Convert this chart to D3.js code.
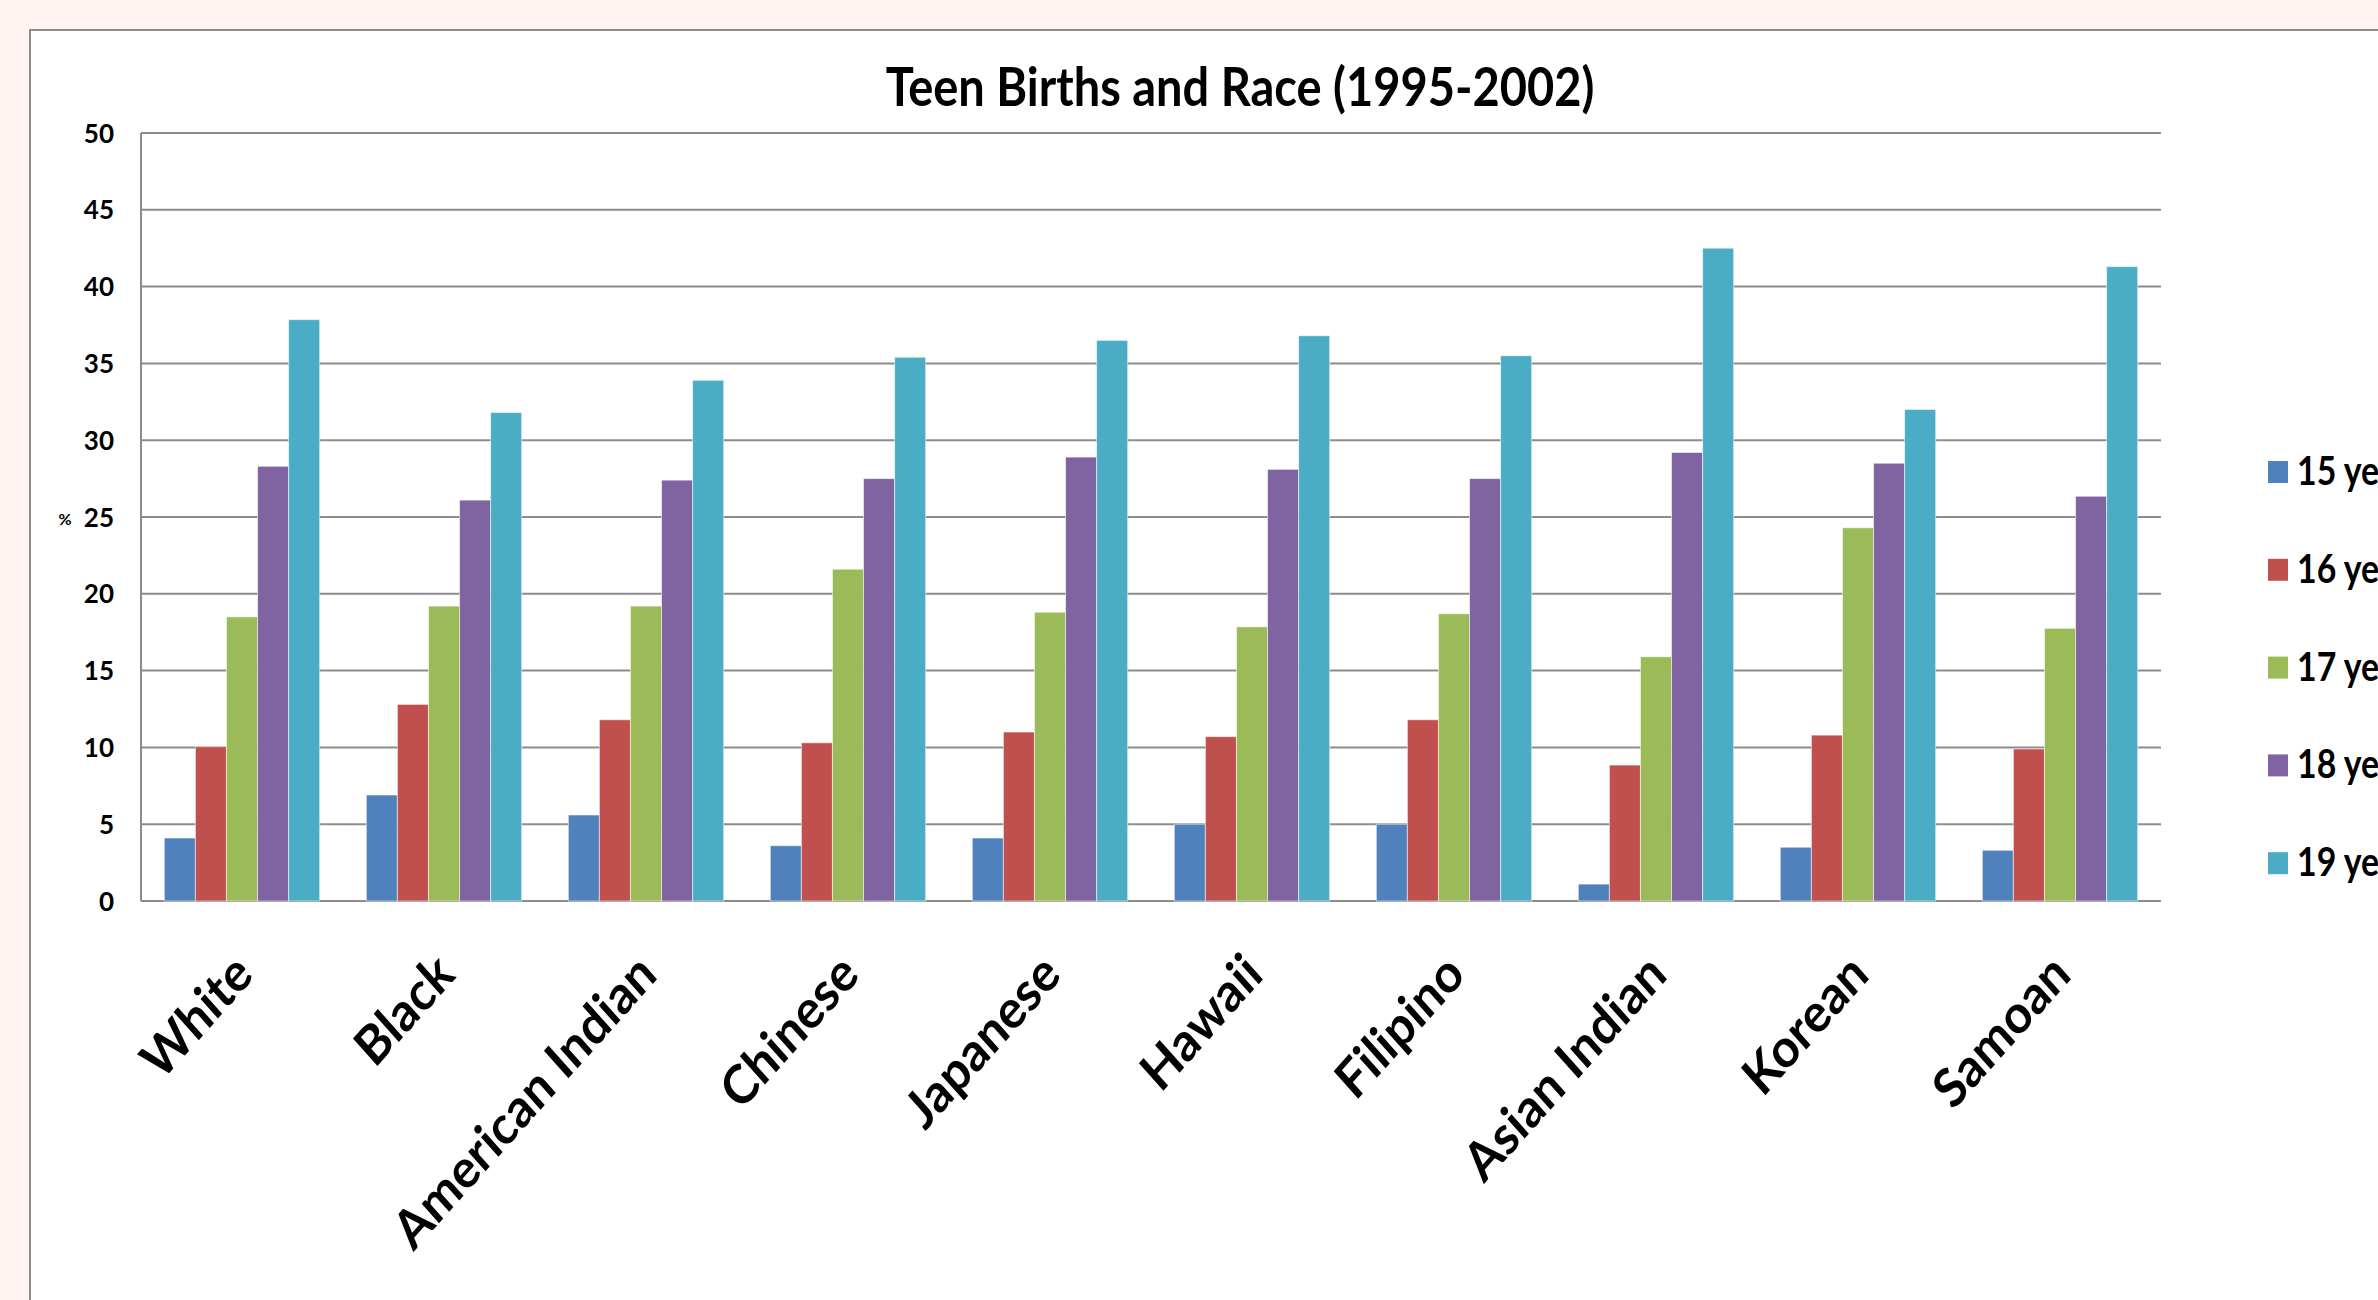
<!DOCTYPE html>
<html>
<head>
<meta charset="utf-8">
<script src="https://cdn.jsdelivr.net/npm/d3@7"></script>
<style>
  html,body{margin:0;padding:0;background:#fff4f1;overflow:hidden;}
  text{font-family:Lato,"Open Sans",sans-serif;font-weight:bold;fill:#000;}
</style>
</head>
<body>
<div id="chart"></div>
<script>
var width=2378;
var height=1300;

var races=['White','Black','American Indian','Chinese','Japanese','Hawaii','Filipino','Asian Indian','Korean','Samoan'];
var ages=['15 years','16 years','17 years','18 years','19 years'];
var colors=['#4f81bd','#c0504d','#9bbb59','#8064a2','#4bacc6'];

// percent of teen births per age, one array per age group
var age15=[4.1,6.9,5.6,3.6,4.1,5.0,5.0,1.1,3.5,3.3];
var age16=[10.05,12.8,11.8,10.3,11.0,10.7,11.8,8.85,10.8,9.9];
var age17=[18.5,19.2,19.2,21.6,18.8,17.85,18.7,15.9,24.3,17.75];
var age18=[28.3,26.1,27.4,27.5,28.9,28.1,27.5,29.2,28.5,26.35];
var age19=[37.85,31.8,33.9,35.4,36.5,36.8,35.5,42.5,32.0,41.3];
var yTicks=[0,5,10,15,20,25,30,35,40,45,50];

var seriesData=[age15,age16,age17,age18,age19];

var plotLeft=141, plotRight=2161, plotTop=133, plotBottom=901;
var stretch=1.12; // text in the original looks a bit taller than wide

var svg=d3.select('#chart').append('svg')
  .attr('width',width)
  .attr('height',height);

// chart frame
svg.append('rect')
  .attr('x',30).attr('y',30)
  .attr('width',width+20).attr('height',height+20)
  .attr('fill','#fff')
  .attr('stroke','#8c8c8c')
  .attr('stroke-width',2);

var x0=d3.scaleBand().domain(races).range([plotLeft,plotRight]).padding(0);
var x1=d3.scaleBand().domain(d3.range(ages.length)).range([0,x0.bandwidth()])
  .paddingInner(0).paddingOuter(0.75);
var y=d3.scaleLinear().domain([0,50]).range([plotBottom,plotTop]);

// gridlines
svg.append('g').selectAll('line')
  .data(yTicks)
  .enter()
  .append('line')
  .attr('x1',plotLeft).attr('x2',plotRight)
  .attr('y1',function(d){return y(d);})
  .attr('y2',function(d){return y(d);})
  .attr('stroke','#8c8c8c')
  .attr('stroke-width',2);

// left axis line
svg.append('line')
  .attr('x1',plotLeft).attr('x2',plotLeft)
  .attr('y1',plotTop).attr('y2',plotBottom)
  .attr('stroke','#8c8c8c')
  .attr('stroke-width',2);

// y tick labels
var yAxis=d3.axisLeft(y).tickValues(yTicks).tickSize(0).tickPadding(27);
var yg=svg.append('g').attr('transform','translate('+plotLeft+',0)').call(yAxis);
yg.select('.domain').remove();
yg.selectAll('text')
  .style('font-size','26px')
  .style('font-family','Lato, sans-serif')
  .style('font-weight','bold')
  .attr('dy','0.35em');

svg.append('text')
  .attr('x',65).attr('y',519)
  .attr('text-anchor','middle')
  .attr('dy','0.35em')
  .style('font-size','16px')
  .text('%');

// bars
var groups=svg.append('g').selectAll('g')
  .data(races)
  .enter()
  .append('g')
  .attr('transform',function(d){return 'translate('+x0(d)+',0)';});

groups.selectAll('rect')
  .data(function(d,i){
    return seriesData.map(function(s,j){return {series:j,value:s[i]};});
  })
  .enter()
  .append('rect')
  .attr('x',function(d){return x1(d.series);})
  .attr('width',x1.bandwidth())
  .attr('y',function(d){return y(d.value);})
  .attr('height',function(d){return plotBottom-y(d.value);})
  .attr('fill',function(d){return colors[d.series];})
  .attr('stroke','rgba(255,255,255,0.55)')
  .attr('stroke-width',1);

// category labels
svg.append('g').selectAll('text')
  .data(races)
  .enter()
  .append('text')
  .attr('transform',function(d){
    var cx=x0(d)+x0.bandwidth()/2+13;
    return 'translate('+cx+','+(plotBottom+76)+') scale(1,'+stretch+') rotate(-45)';
  })
  .attr('text-anchor','end')
  .style('font-size','48px')
  .text(function(d){return d;});

// title
svg.append('text')
  .attr('transform','translate(1240,106) scale(1,'+stretch+')')
  .attr('text-anchor','middle')
  .style('font-size','47px')
  .text('Teen Births and Race (1995-2002)');

// legend
var legend=svg.append('g').selectAll('g')
  .data(ages)
  .enter()
  .append('g')
  .attr('transform',function(d,i){return 'translate(2268,'+(472+i*97.8)+')';});

legend.append('rect')
  .attr('x',0).attr('y',-11)
  .attr('width',20).attr('height',22)
  .attr('fill',function(d,i){return colors[i];});

legend.append('text')
  .attr('transform','translate(29,13) scale(0.94,'+stretch+')')
  .style('font-size','36px')
  .text(function(d){return d;});
</script>
</body>
</html>
